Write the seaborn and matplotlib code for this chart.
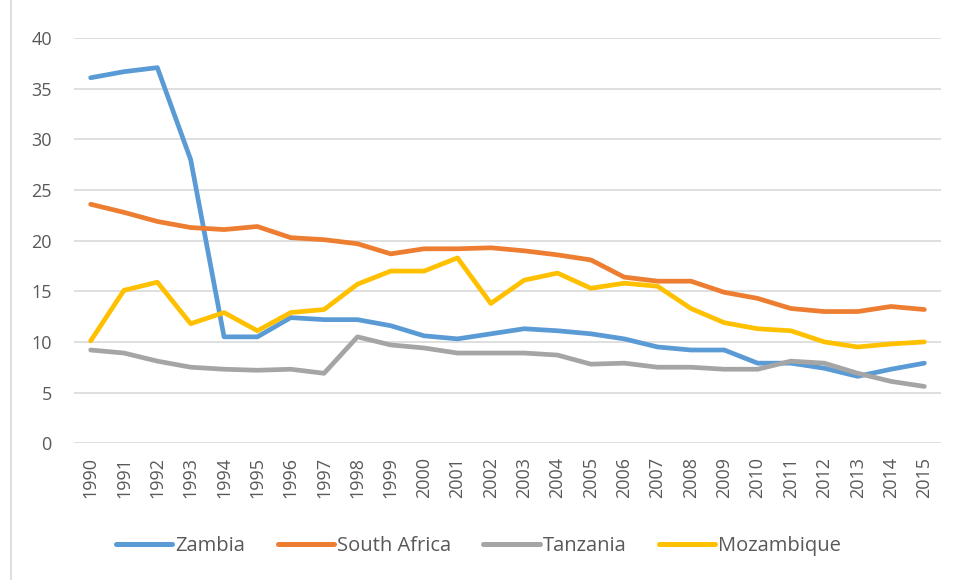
import pandas as pd
import matplotlib.pyplot as plt
import matplotlib.lines as mlines
import seaborn as sns

years = list(range(1990, 2016))
zambia = [36.1, 36.7, 37.1, 28.0, 10.5, 10.5, 12.4, 12.2, 12.2, 11.6, 10.6, 10.3, 10.8,
          11.3, 11.1, 10.8, 10.3, 9.5, 9.2, 9.2, 7.9, 7.9, 7.4, 6.6, 7.3, 7.9]
south_africa = [23.6, 22.8, 21.9, 21.3, 21.1, 21.4, 20.3, 20.1, 19.7, 18.7, 19.2, 19.2, 19.3,
                19.0, 18.6, 18.1, 16.4, 16.0, 16.0, 14.9, 14.3, 13.3, 13.0, 13.0, 13.5, 13.2]
tanzania = [9.2, 8.9, 8.1, 7.5, 7.3, 7.2, 7.3, 6.9, 10.5, 9.7, 9.4, 8.9, 8.9,
            8.9, 8.7, 7.8, 7.9, 7.5, 7.5, 7.3, 7.3, 8.1, 7.9, 6.9, 6.1, 5.6]
mozambique = [10.1, 15.1, 15.9, 11.8, 12.9, 11.1, 12.9, 13.2, 15.7, 17.0, 17.0, 18.3, 13.8,
              16.1, 16.8, 15.3, 15.8, 15.5, 13.3, 11.9, 11.3, 11.1, 10.0, 9.5, 9.8, 10.0]

countries = ["Zambia", "South Africa", "Tanzania", "Mozambique"]
colors = ["#5B9BD5", "#ED7D31", "#A5A5A5", "#FFC000"]
color_map = dict(zip(countries, colors))

# long-form data for seaborn
df = pd.DataFrame({"Year": [str(y) for y in years] * 4,
                   "Value": zambia + south_africa + tanzania + mozambique,
                   "Country": sum([[c] * len(years) for c in countries], [])})

sns.set_style("white")
plt.rcParams['font.family'] = ['Open Sans', 'DejaVu Sans']

fig = plt.figure(figsize=(9.57, 5.8), dpi=100)
ax = fig.add_axes([0.0773, 0.236, 0.906, 0.698])

sns.lineplot(data=df, x="Year", y="Value", hue="Country", hue_order=countries,
             palette=color_map, linewidth=3.4, ax=ax, legend=False, sort=False)

ax.set_xlim(-0.5, len(years) - 0.5)
ax.set_ylim(0, 40)
ax.set_yticks(range(0, 41, 5))
ax.yaxis.grid(True, color="#D9D9D9", linewidth=1.2)
ax.set_axisbelow(True)
for s in ax.spines.values():
    s.set_visible(False)
ax.tick_params(axis="x", labelrotation=90, labelsize=13, labelcolor="#595959", length=0, pad=10)
ax.tick_params(axis="y", labelsize=13, labelcolor="#595959", length=0, pad=16)
ax.set_xlabel("")
ax.set_ylabel("")

# legend below chart
handles = [mlines.Line2D([], [], color=color_map[c], linewidth=3.6, label=c) for c in countries]
fig.legend(handles=handles, loc="center", bbox_to_anchor=(0.5, 0.059), ncol=4, frameon=False,
           fontsize=14.5, labelcolor="#595959", handlelength=2.8, handletextpad=0.15,
           columnspacing=1.6)

# chart frame on the left
fig.add_artist(mlines.Line2D([0.011, 0.011], [0, 1], color="#D9D9D9", linewidth=1.2,
                             transform=fig.transFigure))

plt.savefig("out.png", dpi=100)
